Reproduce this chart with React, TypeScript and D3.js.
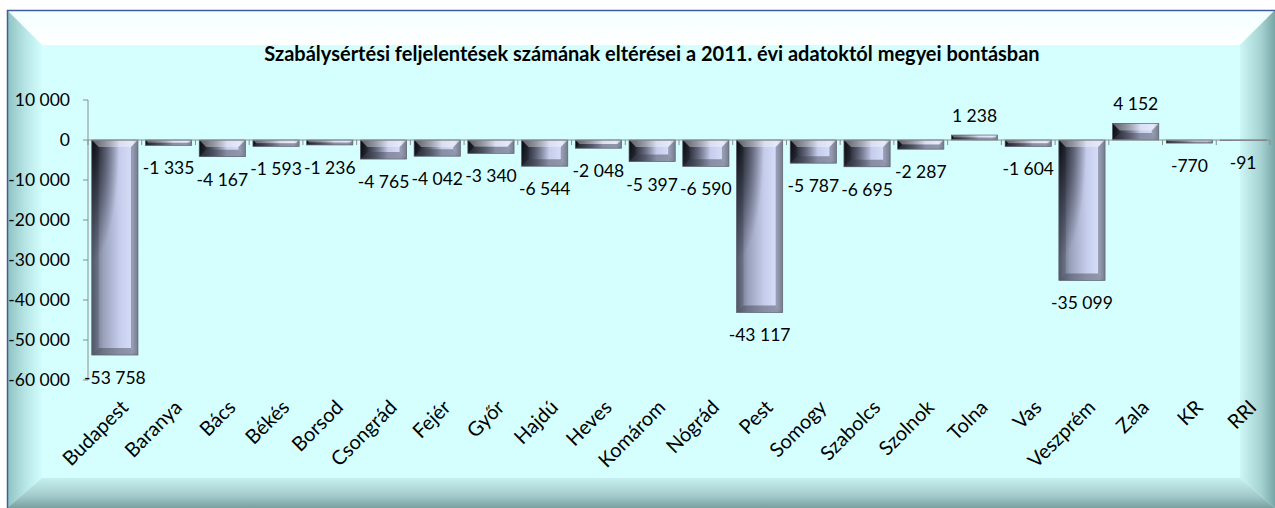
import * as d3 from 'd3';

const categories = ['Budapest', 'Baranya', 'Bács', 'Békés', 'Borsod', 'Csongrád', 'Fejér', 'Győr', 'Hajdú', 'Heves', 'Komárom', 'Nógrád', 'Pest', 'Somogy', 'Szabolcs', 'Szolnok', 'Tolna', 'Vas', 'Veszprém', 'Zala', 'KR', 'RRI'];
const values = [-53758, -1335, -4167, -1593, -1236, -4765, -4042, -3340, -6544, -2048, -5397, -6590, -43117, -5787, -6695, -2287, 1238, -1604, -35099, 4152, -770, -91];
const yTicks = [10000, 0, -10000, -20000, -30000, -40000, -50000, -60000];
const title = 'Szabálysértési feljelentések számának eltérései a 2011. évi adatoktól megyei bontásban';

const W = 1275;
const H = 508;
const FONT = 'Lato, "Open Sans", sans-serif';

// hungarian style thousands: space separator
const fmt = (v: number) => {
  const s = Math.abs(v).toString().replace(/\B(?=(\d{3})+(?!\d))/g, ' ');
  return (v < 0 ? '-' : '') + s;
};

export default function App() {
  const x = d3.scaleBand<string>()
    .domain(categories)
    .range([88, 1270])
    .paddingInner(0.14)
    .paddingOuter(0.07);
  const y = d3.scaleLinear().domain([-60000, 10000]).range([380, 100]);
  const step = x.step();
  const bw = x.bandwidth();
  const y0 = y(0);

  return (
    <svg width={W} height={H} style={{ position: 'absolute', left: 0, top: 0 }}>
      <defs>
        <linearGradient id="topBev" x1="0" y1="0" x2="0" y2="1">
          <stop offset="0" stopColor="#f4ffff" />
          <stop offset="1" stopColor="#ffffff" />
        </linearGradient>
        <linearGradient id="leftBev" x1="0" y1="0" x2="1" y2="0">
          <stop offset="0" stopColor="#8fc2c2" />
          <stop offset="0.5" stopColor="#b6e4e4" />
          <stop offset="1" stopColor="#d2fdfd" />
        </linearGradient>
        <linearGradient id="rightBev" x1="0" y1="0" x2="1" y2="0">
          <stop offset="0" stopColor="#cdf6f6" />
          <stop offset="0.6" stopColor="#a6d2d2" />
          <stop offset="1" stopColor="#78a6a6" />
        </linearGradient>
        <linearGradient id="botBev" x1="0" y1="0" x2="0" y2="1">
          <stop offset="0" stopColor="#c6f0f0" />
          <stop offset="0.6" stopColor="#a2caca" />
          <stop offset="1" stopColor="#7aa0a0" />
        </linearGradient>
        <linearGradient id="barFill" x1="0" y1="0" x2="1" y2="0">
          <stop offset="0" stopColor="#5e667a" />
          <stop offset="0.25" stopColor="#98a0ba" />
          <stop offset="0.6" stopColor="#c6cdec" />
          <stop offset="0.88" stopColor="#d6defa" />
          <stop offset="1" stopColor="#9ca2b8" />
        </linearGradient>
        {categories.map((c, i) => {
          const x0 = x(c)!;
          const top = Math.min(y(values[i]), y0);
          return (
            <radialGradient key={c} id={`shade${i}`} gradientUnits="userSpaceOnUse"
              cx={0} cy={0} r={1} gradientTransform={`translate(${x0},${top}) scale(${bw * 0.6},120)`}>
              <stop offset="0" stopColor="#08090f" stopOpacity={0.95} />
              <stop offset="0.5" stopColor="#1c1e2a" stopOpacity={0.55} />
              <stop offset="1" stopColor="#20222e" stopOpacity={0} />
            </radialGradient>
          );
        })}
      </defs>

      {/* frame */}
      <rect x={7} y={10} width={W - 7} height={H - 10} fill="#d5ffff" />
      <polygon points={`7,10 ${W},10 1240,45 42,45`} fill="url(#topBev)" />
      <polygon points={`7,10 42,45 42,478 7,${H}`} fill="url(#leftBev)" />
      <polygon points={`7,${H} 42,478 1240,478 ${W},${H}`} fill="url(#botBev)" />
      <polygon points={`${W},10 1240,45 1240,478 ${W},${H}`} fill="url(#rightBev)" />
      <rect x={42} y={45} width={1198} height={433} fill="#d5ffff" />
      <path d={`M7.5,${H} V10.5 H${W}`} fill="none" stroke="#3f5c9c" strokeWidth={1.5} />

      <text x={652} y={61} textAnchor="middle" fontFamily={FONT} fontWeight="bold" fontSize={20} fill="#000">
        {title}
      </text>

      {/* y axis */}
      <line x1={88} x2={88} y1={y(10000)} y2={y(-60000)} stroke="#8c8c8c" />
      {yTicks.map(t => (
        <g key={t}>
          <line x1={83} x2={88} y1={y(t)} y2={y(t)} stroke="#8c8c8c" />
          <text x={70} y={y(t) + 6} textAnchor="end" fontFamily={FONT} fontSize={17.5} fill="#000">{fmt(t)}</text>
        </g>
      ))}

      {/* bars */}
      {categories.map((c, i) => {
        const v = values[i];
        const x0 = x(c)!;
        const top = Math.min(y(v), y0);
        const h = Math.abs(y(v) - y0);
        const b = Math.min(7, h / 2, bw / 2);
        const x1 = x0 + bw;
        const yb = top + h;
        return (
          <g key={c}>
            <rect x={x0} y={top} width={bw} height={h} fill="url(#barFill)" />
            <rect x={x0} y={top} width={bw} height={h} fill={`url(#shade${i})`} />
            <polygon points={`${x0},${top} ${x1},${top} ${x1 - b},${top + b} ${x0 + b},${top + b}`} fill="#ffffff" opacity={0.35} />
            <polygon points={`${x0},${yb} ${x1},${yb} ${x1 - b},${yb - b} ${x0 + b},${yb - b}`} fill="#3c404c" opacity={0.45} />
            <polygon points={`${x1},${top} ${x1},${yb} ${x1 - b},${yb - b} ${x1 - b},${top + b}`} fill="#4a4e5c" opacity={0.45} />
            <polygon points={`${x0},${top} ${x0},${yb} ${x0 + b},${yb - b} ${x0 + b},${top + b}`} fill="#000" opacity={0.15} />
            <rect x={x0} y={top} width={bw} height={h} fill="none" stroke="#5e6270" strokeWidth={0.7} />
          </g>
        );
      })}

      {/* category axis at zero */}
      <line x1={88} x2={1270} y1={y0} y2={y0} stroke="#8c8c8c" />
      {d3.range(categories.length + 1).map(i => {
        const tx = 88 + i * step;
        return <line key={i} x1={tx} x2={tx} y1={y0} y2={y0 + 5} stroke="#8c8c8c" />;
      })}

      {/* data labels */}
      {categories.map((c, i) => {
        const v = values[i];
        const cx = x(c)! + bw / 2;
        const ty = v < 0 ? y(v) + 29 : y(v) - 13;
        return (
          <text key={c} x={cx} y={ty} textAnchor="middle" fontFamily={FONT} fontSize={17.5} fill="#000">{fmt(v)}</text>
        );
      })}

      {/* category labels */}
      {categories.map(c => {
        const cx = x(c)! + bw / 2 + 4;
        return (
          <text key={c} x={cx} y={398} textAnchor="end" transform={`rotate(-45 ${cx} 398)`} fontFamily={FONT} fontSize={20} fill="#000" dy="0.75em">{c}</text>
        );
      })}
    </svg>
  );
}
